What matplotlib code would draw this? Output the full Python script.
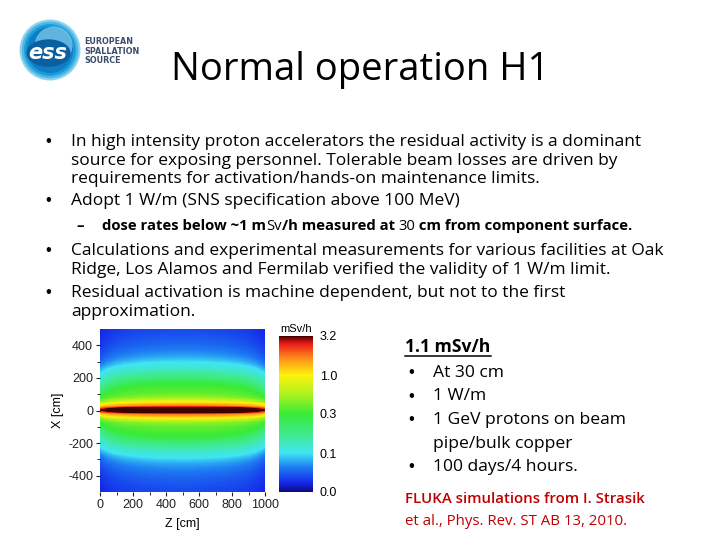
import numpy as np
import matplotlib
matplotlib.use('Agg')
import matplotlib.pyplot as plt
from matplotlib.colors import LinearSegmentedColormap, FuncNorm
from matplotlib.patches import Circle, Ellipse
from matplotlib.lines import Line2D

plt.rcParams['axes.unicode_minus'] = False

# ---------------- data ----------------
# dose (mSv/h) vs |X| (cm) at the middle of the section
x_half_cm = [0, 25, 50, 75, 100, 125, 150, 175, 200, 225, 250,
             275, 300, 325, 350, 375, 400, 425, 450, 475, 500]
dose_half = [6.0, 2.2, 1.0, 0.6, 0.45, 0.38, 0.32, 0.27, 0.22, 0.18, 0.145,
             0.115, 0.095, 0.08, 0.07, 0.062, 0.055, 0.05, 0.046, 0.042, 0.04]
# relative dose along Z (cm)
z_cm = [0, 50, 100, 150, 200, 250, 300, 350, 400, 450, 500,
        550, 600, 650, 700, 750, 800, 850, 900, 950, 1000]
z_factor = [0.55, 0.7, 0.8, 0.86, 0.9, 0.94, 0.96, 0.98, 0.99, 1.0, 1.0,
            1.0, 0.99, 0.98, 0.96, 0.94, 0.9, 0.86, 0.8, 0.7, 0.55]
cbar_levels = [0.0, 0.1, 0.3, 1.0, 3.2]
cbar_labels = ['0.0', '0.1', '0.3', '1.0', '3.2']
z_ticks = [0, 200, 400, 600, 800, 1000]
x_ticks = [-400, -200, 0, 200, 400]

title = "Normal operation H1"
bullets = [
    ["In high intensity proton accelerators the residual activity is a dominant",
     "source for exposing personnel. Tolerable beam losses are driven by",
     "requirements for activation/hands-on maintenance limits."],
    ["Adopt 1 W/m (SNS specification above 100 MeV)"],
]
bullets2 = [
    ["Calculations and experimental measurements for various facilities at Oak",
     "Ridge, Los Alamos and Fermilab verified the validity of 1 W/m limit."],
    ["Residual activation is machine dependent, but not to the first",
     "approximation."],
]
right_items = [["At 30 cm"], ["1 W/m"], ["1 GeV protons on beam", "pipe/bulk copper"],
               ["100 days/4 hours."]]

# ---------------- figure ----------------
W, H = 720, 540
fig = plt.figure(figsize=(7.2, 5.4), dpi=100)
FONT = 'Open Sans'
BUL = 'Liberation Sans'


def fx(x):
    return x / W


def fy(y):
    return 1 - y / H


# logo
lax = fig.add_axes([fx(18), fy(82), fx(64), 64 / H])
lax.set_xlim(-1.05, 1.05)
lax.set_ylim(-1.05, 1.05)
lax.set_aspect('equal')
lax.axis('off')
for r, c in [(1.0, '#8fd3ee'), (0.93, '#4db8e6'), (0.85, '#1d9ad8'), (0.76, '#0c7fc4')]:
    lax.add_patch(Circle((0, 0), r, color=c, lw=0))
lax.add_patch(Circle((0.12, 0.15), 0.62, color='#9ad9f0', lw=0, alpha=0.6))
lax.add_patch(Ellipse((-0.05, -0.1), 1.45, 0.9, color='#0b5fa0', lw=0))
lax.text(-0.08, -0.1, 'ess', color='white', fontsize=15, fontweight='bold',
         fontstyle='italic', ha='center', va='center', family='DejaVu Sans')
for i, s in enumerate(['EUROPEAN', 'SPALLATION', 'SOURCE']):
    fig.text(fx(84), fy(44 + 9.5 * i), s, fontsize=5.8, fontweight='bold',
             color='#3b4d6b', family='DejaVu Sans', va='baseline')

# title
fig.text(fx(360), fy(80), title, fontsize=27.5, family=FONT, ha='center', va='baseline')

# bullets
BFS = 12.5
y = 146
for para in bullets:
    fig.text(fx(45), fy(y), '•', fontsize=12, family=BUL, va='baseline')
    for j, line in enumerate(para):
        fig.text(fx(71), fy(y), line, fontsize=BFS, family=FONT, va='baseline')
        y += 18.6
    y += 3.5

# sub bullet with mixed weights
SFS = 10.7
sub_y = 230
fig.text(fx(76), fy(sub_y), '–', fontsize=SFS, family=FONT, fontweight='bold', va='baseline')
pieces = [("dose rates below ~1 m", 'bold'), ("Sv", 'normal'),
          ("/h measured at ", 'bold'), ("30", 'normal'),
          (" cm from component surface.", 'bold')]
chain = []
for txt, wt in pieces:
    chain.append(fig.text(fx(102), fy(sub_y), txt, fontsize=SFS, family=FONT,
                          fontweight=wt, va='baseline'))
fig.canvas.draw()
renderer = fig.canvas.get_renderer()
xcur = fx(102)
for t in chain:
    t.set_position((xcur, fy(sub_y)))
    xcur += t.get_window_extent(renderer).width / W

y = 255
for para in bullets2:
    fig.text(fx(45), fy(y), '•', fontsize=12, family=BUL, va='baseline')
    for line in para:
        fig.text(fx(71), fy(y), line, fontsize=BFS, family=FONT, va='baseline')
        y += 18.6
    y += 5

# right block
RFS = 12.6
fig.text(fx(405), fy(352), "1.1 mSv/h", fontsize=RFS, family=FONT, fontweight='bold',
         va='baseline')
fig.add_artist(Line2D([fx(405), fx(491)], [fy(355.5), fy(355.5)], color='black', lw=1.1))
y = 377
for item in right_items:
    fig.text(fx(408), fy(y), '•', fontsize=12, family=BUL, va='baseline')
    for line in item:
        fig.text(fx(433), fy(y), line, fontsize=RFS, family=FONT, va='baseline')
        y += 23.5
fig.text(fx(405), fy(503), "FLUKA simulations from I. Strasik", fontsize=10.8,
         family=FONT, fontweight='semibold', color='#c00000', va='baseline')
fig.text(fx(405), fy(525), "et al., Phys. Rev. ST AB 13, 2010.", fontsize=10.8,
         family=FONT, color='#c00000', va='baseline')

# ---------------- heatmap ----------------
x_full = np.array([-v for v in x_half_cm[:0:-1]] + x_half_cm, dtype=float)
d_full = np.array(dose_half[:0:-1] + dose_half, dtype=float)
grid = np.outer(d_full, np.array(z_factor))

cmap = LinearSegmentedColormap.from_list('dose', [
    (0.0, (0.04, 0.04, 0.50)), (0.06, (0.08, 0.16, 0.92)), (0.16, (0.12, 0.50, 0.95)),
    (0.25, (0.25, 0.90, 0.95)), (0.37, (0.25, 0.92, 0.55)), (0.5, (0.22, 0.92, 0.22)),
    (0.62, (0.65, 0.95, 0.12)), (0.75, (1.0, 0.95, 0.05)), (0.86, (1.0, 0.55, 0.1)),
    (0.95, (0.92, 0.12, 0.1)), (0.985, (0.55, 0.02, 0.02)), (1.0, (0.25, 0.0, 0.0))])
pos = [0.0, 0.25, 0.5, 0.75, 1.0]


def fwd(v):
    return np.interp(v, cbar_levels, pos)


def inv(p):
    return np.interp(p, pos, cbar_levels)


norm = FuncNorm((fwd, inv), vmin=0.0, vmax=3.2)

hfs = 9
ax = fig.add_axes([fx(100), fy(492), fx(165), 163 / H])
dz = z_cm[1] - z_cm[0]
dx = x_full[1] - x_full[0]
im = ax.imshow(grid, origin='lower', aspect='auto', cmap=cmap, norm=norm,
               extent=[z_cm[0] - dz / 2, z_cm[-1] + dz / 2, x_full[0] - dx / 2, x_full[-1] + dx / 2],
               interpolation='bilinear', interpolation_stage='data')
ax.set_xlim(0, 1000)
ax.set_ylim(-500, 500)
for s in ax.spines.values():
    s.set_visible(False)
ax.set_xticks(z_ticks)
ax.set_xticks([100, 300, 500, 700, 900], minor=True)
ax.set_yticks(x_ticks)
ax.set_yticks([-300, -100, 100, 300], minor=True)
ax.tick_params(labelsize=hfs, length=3, width=0.8, pad=2, direction='out', colors='#222222')
ax.tick_params(which='minor', length=2, width=0.6)
for lab in ax.get_xticklabels() + ax.get_yticklabels():
    lab.set_family('Liberation Sans')
ax.set_xlabel('Z [cm]', fontsize=9, family='Liberation Sans', labelpad=5)
ax.set_ylabel('X [cm]', fontsize=9, family='Liberation Sans', labelpad=3)

cax = fig.add_axes([fx(279), fy(492), fx(34), 156 / H])
cb = fig.colorbar(im, cax=cax, ticks=cbar_levels)
cb.ax.set_yticklabels(cbar_labels)
cb.outline.set_visible(False)
cb.ax.tick_params(length=0, labelsize=hfs, pad=5)
for lab in cb.ax.get_yticklabels():
    lab.set_family('Liberation Sans')
cax.set_title('mSv/h', fontsize=8, family='Liberation Sans', pad=3)

fig.savefig('out.png', dpi=100)
